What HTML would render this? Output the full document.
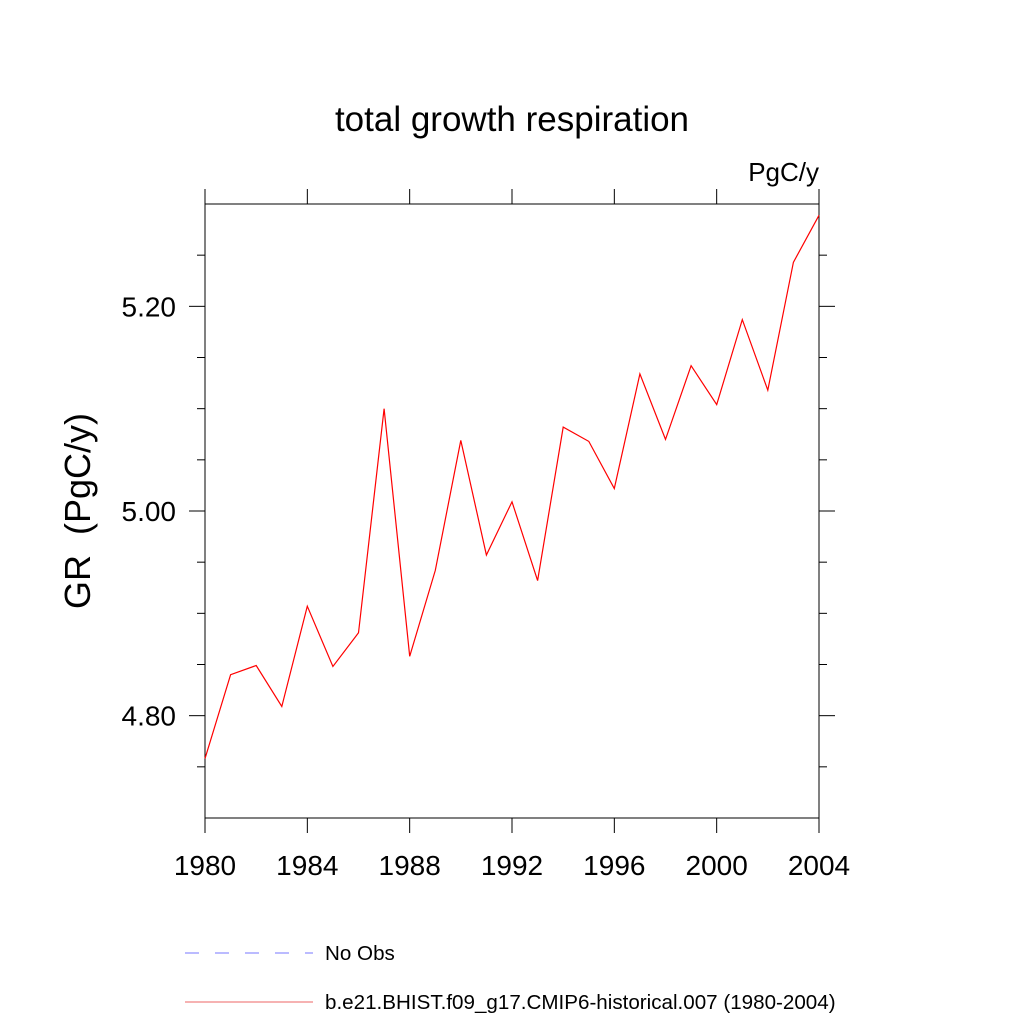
<!DOCTYPE html>
<html><head><meta charset="utf-8"><style>
body{margin:0;background:#fff;}
svg{display:block;font-family:"Liberation Sans",sans-serif;}
</style></head><body>
<svg id="chart" width="1024" height="1024" xmlns="http://www.w3.org/2000/svg">
<rect width="1024" height="1024" fill="#fff"/>
<text x="512" y="131" font-size="35" text-anchor="middle">total growth respiration</text>
<text x="819" y="181" font-size="26" text-anchor="end">PgC/y</text>
<text transform="translate(90,511) rotate(-90)" font-size="36" text-anchor="middle">GR&#160;&#160;(PgC/y)</text>
<g id="axes"></g>
<path id="series" fill="none" stroke="#ff0000" stroke-width="1.2"/>
<g>
<line x1="185" y1="953" x2="313" y2="953" stroke="#7777ff" stroke-width="1" stroke-dasharray="14,16"/>
<text x="325" y="960" font-size="20.6">No Obs</text>
<line x1="185" y1="1002" x2="313" y2="1002" stroke="#ee6666" stroke-width="1"/>
<text x="325" y="1009" font-size="20.6">b.e21.BHIST.f09_g17.CMIP6-historical.007 (1980-2004)</text>
</g>
</svg>
<script>
const years=[1980,1981,1982,1983,1984,1985,1986,1987,1988,1989,1990,1991,1992,1993,1994,1995,1996,1997,1998,1999,2000,2001,2002,2003,2004];
const values=[4.758,4.840,4.849,4.809,4.907,4.848,4.881,5.100,4.858,4.942,5.069,4.957,5.009,4.932,5.082,5.068,5.022,5.134,5.070,5.142,5.104,5.187,5.118,5.243,5.289];
const xTicks=[1980,1984,1988,1992,1996,2000,2004];
const yTicks=[4.80,5.00,5.20];
const yMinor=[4.75,4.85,4.90,4.95,5.05,5.10,5.15,5.25];
const X0=205,X1=819,Y0=204,Y1=818,xmin=1980,xmax=2004,ymin=4.70,ymax=5.30;
const sx=v=>X0+(v-xmin)/(xmax-xmin)*(X1-X0);
const sy=v=>Y1-(v-ymin)/(ymax-ymin)*(Y1-Y0);
const NS="http://www.w3.org/2000/svg";
const g=document.getElementById('axes');
function ln(x1,y1,x2,y2,name){const l=document.createElementNS(NS,'line');
l.setAttribute('x1',x1);l.setAttribute('y1',y1);l.setAttribute('x2',x2);l.setAttribute('y2',y2);
l.setAttribute('stroke','#000');l.setAttribute('stroke-width','1');


g.appendChild(l);}
function tx(x,y,s,anchor,name){const t=document.createElementNS(NS,'text');
t.setAttribute('x',x);t.setAttribute('y',y);t.setAttribute('font-size','28');t.setAttribute('text-anchor',anchor);t.textContent=s;


g.appendChild(t);}
const r=document.createElementNS(NS,'rect');
r.setAttribute('x',X0);r.setAttribute('y',Y0);r.setAttribute('width',X1-X0);r.setAttribute('height',Y1-Y0);
r.setAttribute('fill','none');r.setAttribute('stroke','#000');r.setAttribute('stroke-width','1');


g.appendChild(r);
xTicks.forEach(v=>{const x=sx(v);ln(x,Y0,x,Y0-15,'x-tick-top');ln(x,Y1,x,Y1+15,'x-tick');tx(x,875,String(v),'middle','x-tick-label');});
yTicks.forEach(v=>{const y=sy(v);ln(X0,y,X0-16,y,'y-tick');ln(X1,y,X1+16,y,'y-tick-right');tx(176,y+10,v.toFixed(2),'end','y-tick-label');});
yMinor.forEach(v=>{const y=sy(v);ln(X0,y,X0-8,y,'y-minor-tick');ln(X1,y,X1+8,y,'y-minor-tick-right');});
document.getElementById('series').setAttribute('d',years.map((yr,i)=>(i?'L':'M')+sx(yr).toFixed(1)+' '+sy(values[i]).toFixed(1)).join(' '));
</script>
</body></html>
